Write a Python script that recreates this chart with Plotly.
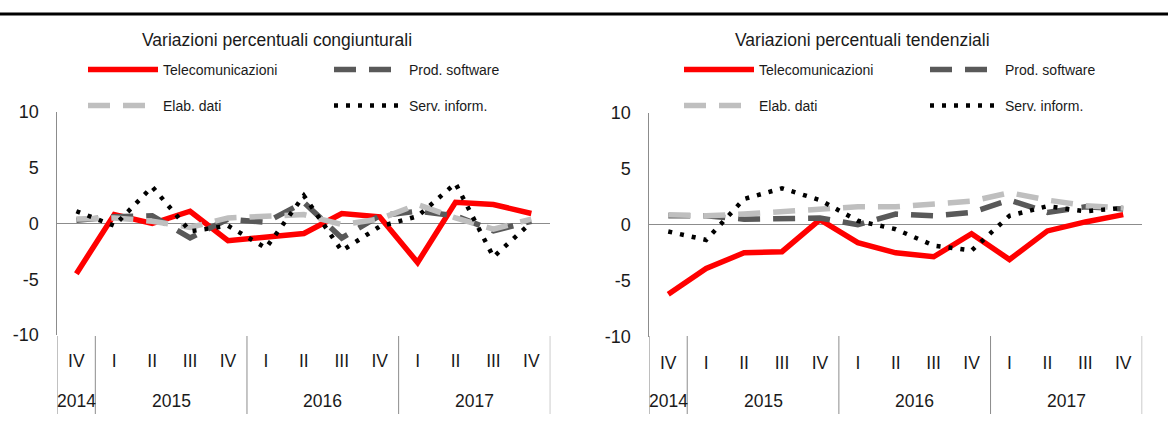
import plotly.graph_objects as go

# ---- data ----
years = ["2014", "2015", "2015", "2015", "2015", "2016", "2016", "2016", "2016",
         "2017", "2017", "2017", "2017"]
quarters = ["IV", "I", "II", "III", "IV", "I", "II", "III", "IV", "I", "II", "III", "IV"]

series_names = ["Telecomunicazioni", "Prod. software", "Elab. dati", "Serv. inform."]

# Variazioni percentuali congiunturali
cong_tlc = [-4.5, 0.8, 0.0, 1.1, -1.55, -1.2, -0.9, 0.9, 0.6, -3.5, 1.9, 1.7, 0.9]
cong_sw = [0.3, 0.6, 0.7, -1.3, 0.4, 0.1, 1.9, -1.3, 0.7, 1.1, 0.7, -0.65, 0.2]
cong_ed = [0.4, 0.5, 0.2, -0.35, 0.5, 0.7, 0.8, -0.1, 0.4, 1.7, 0.5, -0.5, 0.4]
cong_si = [1.1, -0.2, 3.3, -0.7, -0.2, -2.2, 2.5, -2.45, -0.27, 0.65, 3.6, -3.0, 0.1]

# Variazioni percentuali tendenziali
tend_tlc = [-6.2, -3.9, -2.5, -2.4, 0.45, -1.6, -2.5, -2.85, -0.8, -3.1, -0.55, 0.25, 0.9]
tend_sw = [0.8, 0.8, 0.5, 0.6, 0.6, 0.0, 0.95, 0.8, 1.1, 2.2, 1.1, 1.6, 1.4]
tend_ed = [0.9, 0.8, 0.95, 1.2, 1.35, 1.6, 1.6, 1.9, 2.1, 2.85, 2.2, 1.7, 1.5]
tend_si = [-0.6, -1.35, 2.3, 3.25, 2.2, 0.35, -0.4, -1.85, -2.3, 0.8, 1.65, 1.2, 1.5]

titles = ["Variazioni percentuali congiunturali", "Variazioni percentuali tendenziali"]
y_ticks = [-10, -5, 0, 5, 10]
y_ticklabels = ["-10", "-5", "0", "5", "10"]

# ---- derived category keys (unique) ----
cats = [f"{y}-{q}" for y, q in zip(years, quarters)]

# year groups: (year, first index, last index)
groups = []
for i, y in enumerate(years):
    if groups and groups[-1][0] == y:
        groups[-1][2] = i
    else:
        groups.append([y, i, i])

# ---- styles ----
FONT = "Liberation Sans, Arial, sans-serif"
TXT = "#1a1a1a"
GRID = "#8c8c8c"
W, H = 1168, 437
styles = [
    dict(color="#FF0000", width=5.5, dash="solid"),
    dict(color="#595959", width=5.5, dash="22px,13px"),
    dict(color="#BFBFBF", width=5.5, dash="22px,13px"),
    dict(color="#000000", width=4.5, dash="4px,8px"),
]

fig = go.Figure()

panels = [
    dict(data=[cong_tlc, cong_sw, cong_ed, cong_si], xa="x", ya="y",
         xdom=(57.4, 550.3), ydom=(335, 112), leg_x=(83, 329), title_x=277),
    dict(data=[tend_tlc, tend_sw, tend_ed, tend_si], xa="x2", ya="y2",
         xdom=(649.3, 1142.2), ydom=(337, 112.5), leg_x=(679, 925), title_x=862),
]

leg_rows = [70, 106]
legend_layouts = {}
shapes = [dict(type="line", xref="paper", yref="paper", x0=0, x1=1,
               y0=1 - 14 / H, y1=1 - 14 / H, line=dict(color="black", width=3))]
annotations = []
k = 0
for p_i, p in enumerate(panels):
    for s_i, (name, vals) in enumerate(zip(series_names, p["data"])):
        k += 1
        lid = "legend" if k == 1 else f"legend{k}"
        fig.add_trace(go.Scatter(
            x=cats, y=vals, name=name, mode="lines",
            line=styles[s_i], xaxis=p["xa"], yaxis=p["ya"],
            legend=lid, showlegend=True, hoverinfo="skip",
        ))
        col = s_i % 2
        row = s_i // 2
        legend_layouts[lid] = dict(
            x=p["leg_x"][col] / W, y=1 - leg_rows[row] / H,
            xanchor="left", yanchor="middle",
            bgcolor="rgba(0,0,0,0)", borderwidth=0,
            font=dict(family=FONT, size=14, color=TXT),
            itemwidth=70, orientation="h",
        )
    # title
    annotations.append(dict(
        text=titles[p_i], x=p["title_x"] / W, y=1 - 40 / H, xref="paper", yref="paper",
        showarrow=False, xanchor="center", yanchor="middle",
        font=dict(family=FONT, size=17.5, color=TXT)))
    # year labels and group dividers
    xref = p["xa"]
    for (yr, i0, i1) in groups:
        annotations.append(dict(
            text=yr, x=(i0 + i1) / 2, y=1 - 401 / H, xref=xref, yref="paper",
            showarrow=False, xanchor="center", yanchor="middle",
            font=dict(family=FONT, size=17.5, color=TXT)))
    bounds = [groups[0][1] - 0.5] + [g[2] + 0.5 for g in groups]
    for b in bounds:
        shapes.append(dict(type="line", xref=xref, yref="paper", x0=b, x1=b,
                           y0=1 - 336 / H, y1=1 - 414 / H,
                           line=dict(color=GRID, width=1)))

axis_common_x = dict(
    type="category", showgrid=False, showline=False, zeroline=False,
    ticks="", tickvals=cats, ticktext=quarters, ticklabelstandoff=13,
    tickfont=dict(family=FONT, size=17.5, color=TXT),
    range=[-0.5, len(cats) - 0.5], fixedrange=True,
)
axis_common_y = dict(
    range=[-10, 10], tickvals=y_ticks, ticktext=y_ticklabels,
    showgrid=False, showline=True,
    linecolor=GRID, linewidth=1, zeroline=True, zerolinecolor=GRID,
    zerolinewidth=1, ticks="", ticklabelstandoff=14,
    tickfont=dict(family=FONT, size=18, color=TXT), fixedrange=True,
)

layout = dict(
    width=W, height=H, margin=dict(l=0, r=0, t=0, b=0, autoexpand=False),
    paper_bgcolor="white", plot_bgcolor="white",
    font=dict(family=FONT, color=TXT),
    xaxis=dict(axis_common_x, domain=[panels[0]["xdom"][0] / W, panels[0]["xdom"][1] / W], anchor="y"),
    yaxis=dict(axis_common_y, domain=[1 - panels[0]["ydom"][0] / H, 1 - panels[0]["ydom"][1] / H], anchor="x"),
    xaxis2=dict(axis_common_x, domain=[panels[1]["xdom"][0] / W, panels[1]["xdom"][1] / W], anchor="y2"),
    yaxis2=dict(axis_common_y, domain=[1 - panels[1]["ydom"][0] / H, 1 - panels[1]["ydom"][1] / H], anchor="x2"),
    shapes=shapes,
    annotations=annotations,
)
layout.update(legend_layouts)
fig.update_layout(**layout)

fig.write_html("out.html", config={"displayModeBar": False},
               post_script="document.body.style.margin='0';")
